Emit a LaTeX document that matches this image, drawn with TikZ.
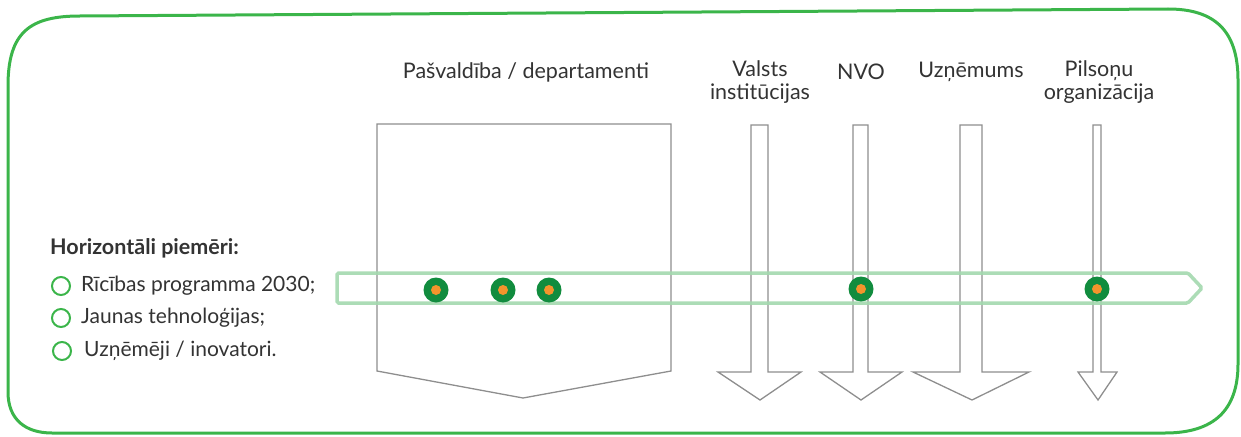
\documentclass[tikz,border=0pt]{standalone}
\usepackage{fontspec}
\setmainfont{Lato}
\usepackage{tikz}
\usetikzlibrary{positioning}

\definecolor{framegreen}{HTML}{3BB54A}
\definecolor{bandgreen}{HTML}{A3D8AE}
\definecolor{dotgreen}{HTML}{118C3E}
\definecolor{dotorange}{HTML}{F3942C}
\definecolor{boxgray}{HTML}{8E8E8E}
\definecolor{textgray}{HTML}{333333}

\begin{document}
\begin{tikzpicture}[x=1pt,y=-1pt,
    label text/.style={font=\fontsize{21.5}{23.5}\selectfont,text=textgray,align=center,inner sep=0pt},
    list text/.style={font=\fontsize{21}{23}\selectfont,text=textgray,anchor=west,inner sep=0pt},
    bullet/.style={circle,draw=framegreen,line width=2pt,minimum size=18pt,inner sep=0pt},
    block/.style={draw=boxgray,line width=1.3pt,line join=miter},
    stop dot/.style={circle,fill=dotgreen,minimum size=25pt,inner sep=0pt,
                     path picture={\fill[dotorange] (path picture bounding box.center) circle (5pt);}}]

    \useasboundingbox (0,0) rectangle (1241,436);

    % outer frame
    \draw[framegreen,line width=3pt] (8,86) .. controls (8,32) and (30,16) .. (80,16)
        -- (1168,9) .. controls (1214,9) and (1238,30) .. (1238,80)
        -- (1238,364) .. controls (1238,410) and (1214,433) .. (1165,433)
        -- (52,433) .. controls (26,433) and (8,420) .. (8,392) -- cycle;

    % vertical blocks
    \draw[block] (377,124) -- (671,124) -- (671,371) -- (523,398) -- (377,371) -- cycle;
    \draw[block] (751,125) -- (768,125) -- (768,372) -- (801,372) -- (760,400) -- (718,372) -- (751,372) -- cycle;
    \draw[block] (853,125) -- (868,125) -- (868,372) -- (902,372) -- (861,400) -- (820,372) -- (853,372) -- cycle;
    \draw[block] (960,125) -- (982,125) -- (982,372) -- (1029,372) -- (972,400) -- (913,372) -- (960,372) -- cycle;
    \draw[block] (1093,125) -- (1101,125) -- (1101,372) -- (1117,372) -- (1098,400) -- (1078,372) -- (1093,372) -- cycle;

    % horizontal band
    \draw[bandgreen,line width=3.5pt,rounded corners=1.5pt,opacity=0.9]
        (337,273) -- (1188,273) -- (1202,288) -- (1188,303) -- (337,303) -- cycle;

    % column titles
    \node[label text] (pasv) at (526,72) {Pašvaldība / departamenti};
    \node[label text] (valsts) at (760,82) {Valsts\\institūcijas};
    \node[label text] (nvo) at (861,72) {NVO};
    \node[label text] (uzn) at (971,72) {Uzņēmums};
    \node[label text] (pils) at (1099,82) {Pilsoņu\\organizācija};

    % stops on the band
    \node[stop dot] (d1) at (436,290) {};
    \node[stop dot] (d2) at (503,290) {};
    \node[stop dot] (d3) at (549,290) {};
    \node[stop dot] (d4) at (861,289) {};
    \node[stop dot] (d5) at (1097,289) {};

    % list on the left
    \node[list text,font=\fontsize{21.5}{23}\selectfont\bfseries] (head) at (50,248) {Horizontāli piemēri:};
    \node[bullet] (b1) at (61,286) {};
    \node[bullet] (b2) at (61,318) {};
    \node[bullet] (b3) at (62,351) {};
    \node[list text] (l1) at (81,286) {Rīcības programma 2030;};
    \node[list text] (l2) at (81,318) {Jaunas tehnoloģijas;};
    \node[list text] (l3) at (84,351) {Uzņēmēji / inovatori.};
\end{tikzpicture}
\end{document}
